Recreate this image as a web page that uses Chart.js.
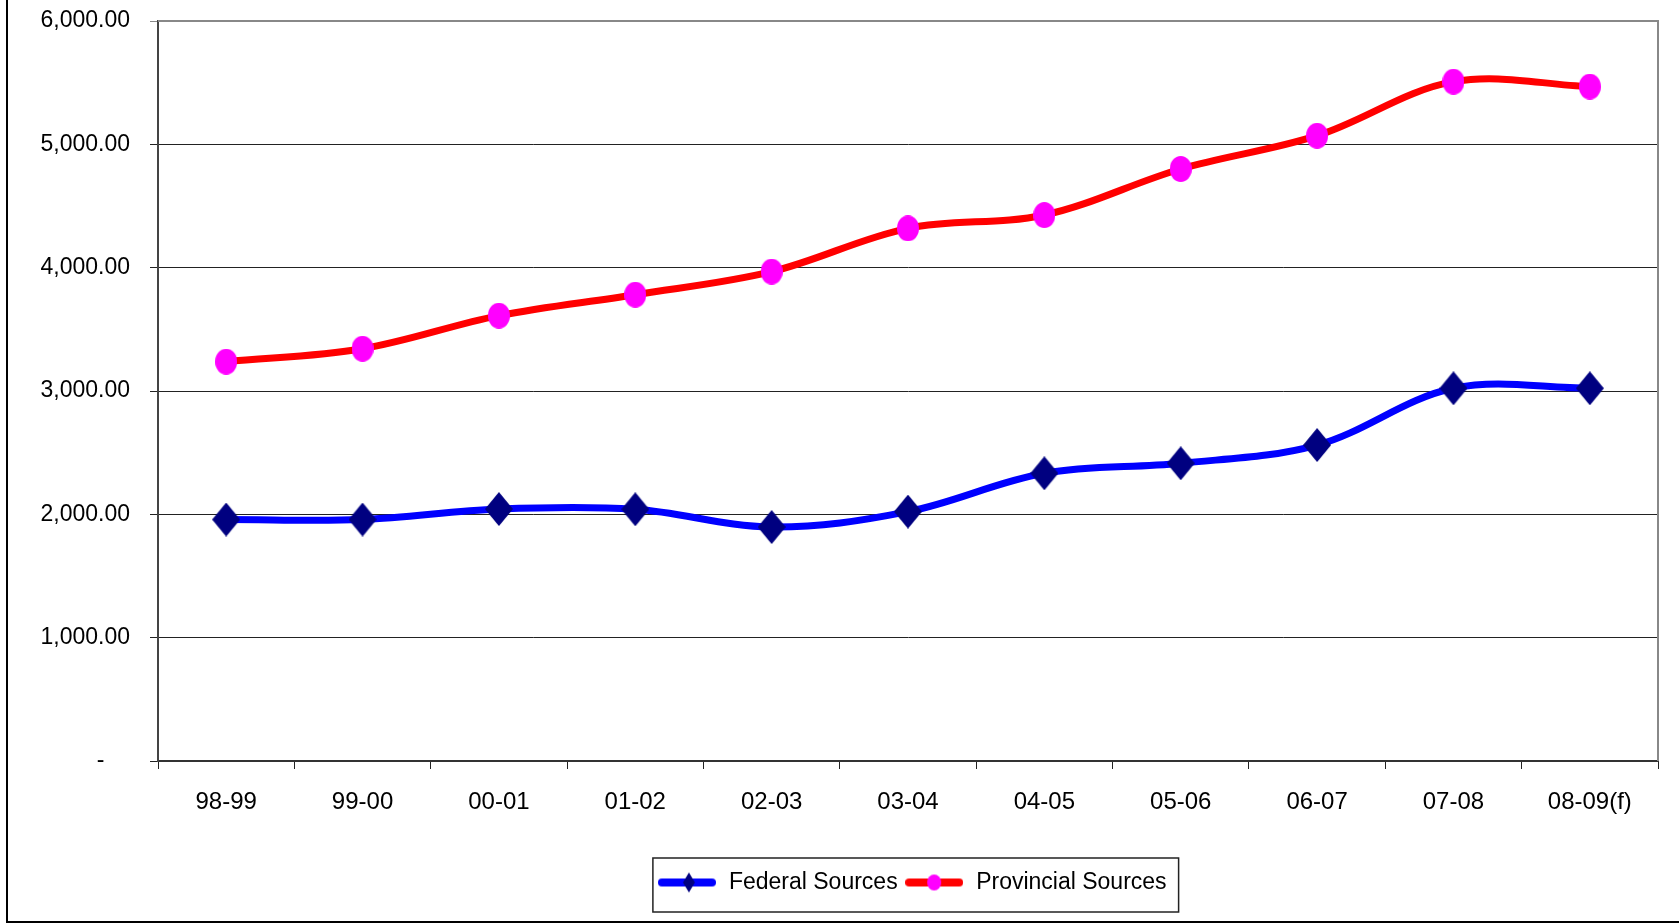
<!DOCTYPE html>
<html>
<head>
<meta charset="utf-8">
<script src="https://cdn.jsdelivr.net/npm/chart.js@4/dist/chart.umd.min.js"></script>
<style>
  html, body { margin: 0; padding: 0; background: #ffffff; overflow: hidden; }
  #wrap { width: 1679px; height: 923px; position: relative; background: #ffffff; }
</style>
</head>
<body>
<div id="wrap"><canvas id="chart" width="1679" height="923"></canvas></div>
<script>
// Fiscal years on the category axis
const years = ['98-99', '99-00', '00-01', '01-02', '02-03', '03-04', '04-05', '05-06', '06-07', '07-08', '08-09(f)'];

// Funding by source, per fiscal year
const federalSources    = [1958, 1958, 2043, 2041, 1897, 2022, 2333, 2414, 2562, 3022, 3022];
const provincialSources = [3238, 3343, 3611, 3781, 3968, 4319, 4427, 4800, 5070, 5508, 5468];

// Value axis labels, 0 to 6,000 in steps of 1,000
const yTickLabels = ['-', '1,000.00', '2,000.00', '3,000.00', '4,000.00', '5,000.00', '6,000.00'];

const FONT = "'Liberation Sans', Arial, sans-serif";

// Marker images: a tall navy diamond and a magenta ellipse
function makeCanvas(w, h, draw) {
  const c = document.createElement('canvas');
  c.width = w; c.height = h;
  draw(c.getContext('2d'), w, h);
  return c;
}
function diamond(ctx, cx, cy, hw, hh, color) {
  ctx.fillStyle = color;
  ctx.beginPath();
  ctx.moveTo(cx, cy - hh);
  ctx.lineTo(cx + hw, cy);
  ctx.lineTo(cx, cy + hh);
  ctx.lineTo(cx - hw, cy);
  ctx.closePath();
  ctx.fill();
}
function ellipse(ctx, cx, cy, rx, ry, color) {
  ctx.fillStyle = color;
  ctx.beginPath();
  ctx.ellipse(cx, cy, rx, ry, 0, 0, Math.PI * 2);
  ctx.fill();
}
const diamondMarker = makeCanvas(28, 34, (ctx) => diamond(ctx, 14, 17, 14, 17, '#000080'));
const circleMarker  = makeCanvas(22, 26, (ctx) => ellipse(ctx, 11, 13, 11, 13, '#FF00FF'));

// Legend swatches: the series line with its marker in the middle
function legendSwatch(lineColor, drawMarker) {
  return makeCanvas(58, 24, (ctx) => {
    ctx.strokeStyle = lineColor;
    ctx.lineWidth = 8;
    ctx.lineCap = 'round';
    ctx.beginPath();
    ctx.moveTo(4, 12);
    ctx.lineTo(54, 12);
    ctx.stroke();
    drawMarker(ctx);
  });
}
const federalSwatch    = legendSwatch('#0000FF', (ctx) => diamond(ctx, 31, 12, 6, 10, '#000080'));
const provincialSwatch = legendSwatch('#FF0000', (ctx) => ellipse(ctx, 29, 12, 7, 8, '#FF00FF'));

// Chart frame, plot-area border and legend box
const framePlugin = {
  id: 'frame',
  afterLayout(chart) {
    // centre the legend row under the middle of the frame
    const lg = chart.legend;
    if (lg) {
      lg.left = 144;
      lg.right = 1679;
      lg.width = 1535;
    }
  },
  beforeDatasetsDraw(chart) {
    const { ctx, chartArea: a } = chart;
    ctx.save();
    ctx.strokeStyle = '#888888';
    ctx.lineWidth = 2;
    ctx.beginPath();
    ctx.moveTo(a.left, a.top);
    ctx.lineTo(a.right, a.top);
    ctx.lineTo(a.right, a.bottom);
    ctx.stroke();
    ctx.restore();
  },
  afterDraw(chart) {
    const ctx = chart.ctx;
    ctx.save();
    ctx.strokeStyle = '#000000';
    ctx.lineWidth = 2;
    ctx.beginPath();
    ctx.moveTo(7, 0);
    ctx.lineTo(7, 922);
    ctx.lineTo(1679, 922);
    ctx.stroke();

    const lg = chart.legend;
    if (lg && lg.legendHitBoxes && lg.legendHitBoxes.length) {
      const hb = lg.legendHitBoxes;
      const first = hb[0], last = hb[hb.length - 1];
      const left = first.left - 3.5;
      const right = last.left + last.width + 12;
      const cy = first.top + first.height / 2 + 2.5;
      ctx.strokeStyle = '#222222';
      ctx.lineWidth = 1.5;
      ctx.strokeRect(left, cy - 27, right - left, 54);
    }
    ctx.restore();
  }
};

new Chart(document.getElementById('chart'), {
  type: 'line',
  data: {
    labels: years,
    datasets: [
      {
        label: 'Federal Sources',
        data: federalSources,
        borderColor: '#0000FF',
        backgroundColor: '#000080',
        borderWidth: 7,
        tension: 0.35,
        borderJoinStyle: 'round',
        borderCapStyle: 'round',
        pointStyle: diamondMarker,
        pointRadius: 14,
        clip: false
      },
      {
        label: 'Provincial Sources',
        data: provincialSources,
        borderColor: '#FF0000',
        backgroundColor: '#FF00FF',
        borderWidth: 7,
        tension: 0.35,
        borderJoinStyle: 'round',
        borderCapStyle: 'round',
        pointStyle: circleMarker,
        pointRadius: 12,
        clip: false
      }
    ]
  },
  options: {
    responsive: false,
    animation: false,
    devicePixelRatio: 1,
    events: [],
    layout: { padding: { left: 8, right: 3, top: 21, bottom: 19 } },
    plugins: {
      tooltip: { enabled: false },
      title: { display: false },
      legend: {
        position: 'bottom',
        labels: {
          usePointStyle: true,
          pointStyleWidth: 61,
          padding: 6,
          color: '#000000',
          font: { family: FONT, size: 23 },
          generateLabels(chart) {
            const items = Chart.defaults.plugins.legend.labels.generateLabels(chart);
            items[0].pointStyle = federalSwatch;
            items[1].pointStyle = provincialSwatch;
            return items;
          }
        }
      }
    },
    scales: {
      x: {
        type: 'category',
        offset: true,
        grid: { offset: true, drawOnChartArea: false, color: '#222222', tickLength: 8, lineWidth: 1 },
        border: { color: '#333333', width: 2 },
        ticks: { color: '#000000', font: { family: FONT, size: 24 }, padding: 19, maxRotation: 0, autoSkip: false },
        afterFit(scale) { scale.height = 104; scale.paddingLeft = 0; scale.paddingRight = 0; }
      },
      y: {
        min: 0,
        max: 6000,
        ticks: {
          stepSize: 1000,
          color: '#000000',
          font: { family: FONT, size: 23 },
          padding: 20,
          callback(value) {
            const label = yTickLabels[Math.round(value / 1000)];
            return value === 0 ? label + '    ' : label;
          }
        },
        grid: {
          tickLength: 8,
          lineWidth: 1,
          color: (ctx) => (ctx.tick && ctx.tick.value === 6000 ? '#888888' : '#222222')
        },
        border: { color: '#444444', width: 2 },
        afterFit(scale) { scale.width = 150; scale.paddingTop = 0; scale.paddingBottom = 0; }
      }
    }
  },
  plugins: [framePlugin]
});
</script>
</body>
</html>
